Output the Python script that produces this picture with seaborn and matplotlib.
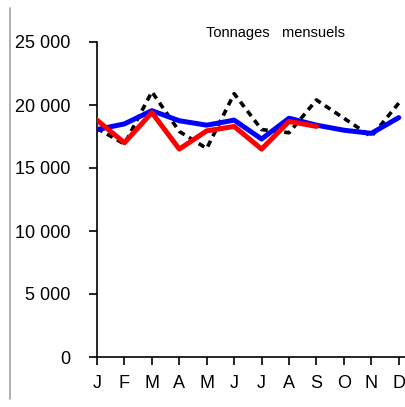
import numpy as np
import pandas as pd
import matplotlib
matplotlib.use("Agg")
import matplotlib.pyplot as plt
import seaborn as sns
from matplotlib.lines import Line2D
from matplotlib.ticker import FuncFormatter

# Monthly tonnages
months = ["J", "F", "M", "A", "M", "J", "J", "A", "S", "O", "N", "D"]
dashed_series = [18150, 16900, 21050, 17900, 16550, 20900, 18050, 17800, 20400, 18950, 17500, 20150]
blue_series = [18050, 18500, 19550, 18750, 18400, 18800, 17300, 18950, 18400, 18000, 17750, 19000]
red_series = [18800, 17000, 19400, 16500, 17950, 18300, 16500, 18700, 18300]

sns.set_theme(style="ticks")
plt.rcParams['font.family'] = ['Liberation Sans', 'DejaVu Sans']

fig = plt.figure(figsize=(4.05, 4.07), dpi=100)
ax = fig.add_axes([97 / 405, 50 / 407, 310 / 405, 315 / 407])

idx = np.arange(len(months))
df_dash = pd.DataFrame({"m": idx, "v": dashed_series})
df_blue = pd.DataFrame({"m": idx, "v": blue_series})
df_red = pd.DataFrame({"m": idx[:len(red_series)], "v": red_series})

sns.lineplot(data=df_dash, x="m", y="v", ax=ax, color="black", lw=2.6,
             linestyle=(0, (1.8, 1.4)), zorder=2)
sns.lineplot(data=df_blue, x="m", y="v", ax=ax, color="#0000ff", lw=3.6, zorder=3)
sns.lineplot(data=df_red, x="m", y="v", ax=ax, color="#ff0000", lw=3.6, zorder=4)

ax.set_xlim(0, 11.3)
ax.set_ylim(0, 25000)
ax.set_xticks(idx)
ax.set_xticklabels(months)
ax.set_yticks(np.arange(0, 25001, 5000))
ax.yaxis.set_major_formatter(FuncFormatter(lambda v, p: f"{int(v):,}".replace(",", " ")))
ax.tick_params(axis="both", labelsize=13, length=6, width=1.2, color="black",
               labelcolor="black", pad=7)
ax.tick_params(axis="y", pad=13)
ax.set_xlabel("")
ax.set_ylabel("")
for s in ["top", "right"]:
    ax.spines[s].set_visible(False)
for s in ["left", "bottom"]:
    ax.spines[s].set_color("black")
    ax.spines[s].set_linewidth(1.2)

fig.text(275 / 405, 1 - 33 / 407, "Tonnages   mensuels", ha="center", va="center",
         fontsize=10.5, color="black")
fig.add_artist(Line2D([9.5 / 405, 9.5 / 405], [1 - 8 / 407, 0.02], color="#a0a0a0", lw=1.2))

fig.savefig("out.png", dpi=100)
